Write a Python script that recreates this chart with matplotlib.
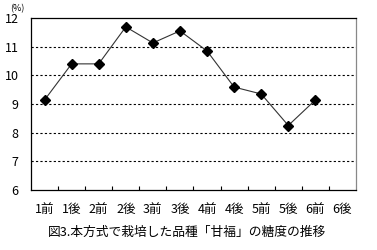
import numpy as np
import matplotlib.pyplot as plt

plt.rcParams['font.family'] = ['Noto Sans CJK JP', 'DejaVu Sans']

categories = ['1前', '1後', '2前', '2後', '3前', '3後', '4前', '4後', '5前', '5後', '6前', '6後']
sugar = [9.14, 10.40, 10.40, 11.69, 11.13, 11.55, 10.85, 9.59, 9.35, 8.25, 9.14]
title = '図3.本方式で栽培した品種「甘福」の糖度の推移'

fig = plt.figure(figsize=(3.77, 2.5), dpi=100)
ax = fig.add_axes([31 / 377, 60 / 250, 325 / 377, 172 / 250])

x = np.arange(len(sugar))
ax.plot(x, sugar, color='#333333', lw=0.8, marker='D', ms=5,
        markerfacecolor='black', markeredgecolor='black', zorder=3)

ax.set_xlim(-0.5, len(categories) - 0.5)
ax.set_ylim(6, 12)
ax.set_yticks(range(6, 13))
ax.set_yticklabels([str(v) for v in range(6, 13)])
for v in range(7, 12):
    ax.axhline(v, color='black', lw=0.8, ls=(0, (2, 2)), zorder=1)

# category boundary ticks, labels centred in each slot
ax.set_xticks(np.arange(0.5, len(categories) - 0.5))
ax.set_xticklabels([])
ax.tick_params(axis='x', direction='in', length=3, width=0.8, color='black')
ax.set_xticks(np.arange(len(categories)), minor=True)
ax.set_xticklabels(categories, minor=True, fontsize=9)
ax.tick_params(axis='x', which='minor', length=0, pad=9)
ax.tick_params(axis='y', length=0, pad=9, labelsize=9)

for s in ['left', 'bottom', 'top']:
    ax.spines[s].set_color('black')
    ax.spines[s].set_linewidth(0.9)
ax.spines['right'].set_color('#888888')
ax.spines['right'].set_linewidth(0.9)

fig.text(17 / 377, 1 - 9 / 250, '(%)', fontsize=6.5, ha='center', va='center')
fig.text(187 / 377, 1 - 232 / 250, title, fontsize=9.2, ha='center', va='center')

fig.savefig('out.png', dpi=100)
